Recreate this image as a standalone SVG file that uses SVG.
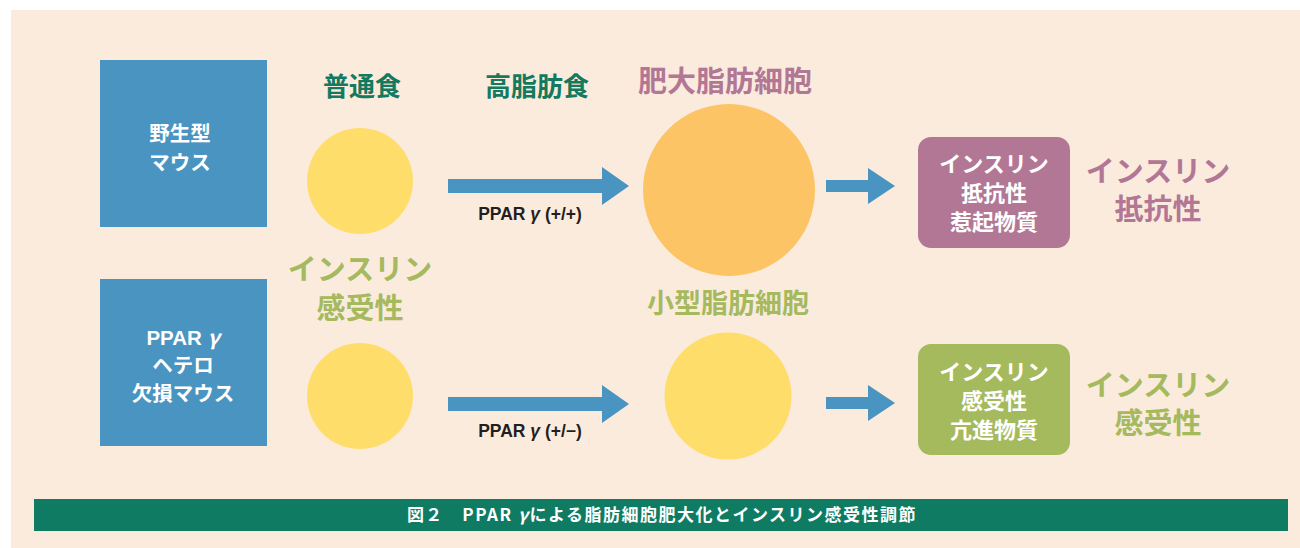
<svg xmlns="http://www.w3.org/2000/svg" width="1300" height="548" viewBox="0 0 1300 548">
<style>
text{font-family:"Noto Sans CJK JP","Noto Sans CJK SC",sans-serif;font-weight:bold;text-anchor:middle}
.w{fill:#ffffff}
.box{fill:#4a94c1}
.teal{fill:#137a5f;font-size:26px}
.pur{fill:#b27795}
.grn{fill:#a5b95d}
.lbl{fill:#231f20;font-size:17.5px;font-family:"Liberation Sans",Arial,sans-serif}
.arr{fill:#4a94c1}
</style>
<rect x="0" y="0" width="1300" height="548" fill="#ffffff"/>
<rect x="11" y="10" width="1289" height="538" fill="#fbebdd"/>

<g id="wild">
<rect class="box" x="100" y="60" width="167" height="167"/>
<text class="w" x="180" y="141" font-size="20.5">野生型</text>
<text class="w" x="180" y="170" font-size="20.5">マウス</text>
</g>
<g id="hetero">
<rect class="box" x="100" y="279" width="167" height="167"/>
<text class="w" x="183" y="345" font-size="20.5"><tspan font-family="Liberation Sans,Arial,sans-serif">PPAR </tspan><tspan font-style="italic">γ</tspan></text>
<text class="w" x="183" y="373" font-size="20.5">ヘテロ</text>
<text class="w" x="183" y="401" font-size="20.5">欠損マウス</text>
</g>

<g id="label-normal"><text class="teal" x="362" y="96">普通食</text></g>
<g id="label-hfd"><text class="teal" x="537" y="96">高脂肪食</text></g>
<g id="label-big"><text class="pur" x="725" y="92" font-size="29">肥大脂肪細胞</text></g>
<g id="label-small"><text class="grn" x="728" y="313" font-size="27">小型脂肪細胞</text></g>
<g id="label-sens-left">
<text class="grn" x="360" y="280" font-size="29">インスリン</text>
<text class="grn" x="360" y="319" font-size="29">感受性</text>
</g>

<g id="cell1"><circle cx="360" cy="181" r="53" fill="#fedd6b"/></g>
<g id="cell2"><circle cx="360" cy="396" r="53" fill="#fedd6b"/></g>
<g id="cell-big"><circle cx="729" cy="190" r="86" fill="#fdc466"/></g>
<g id="cell-small"><circle cx="728" cy="396" r="63.5" fill="#fedd6b"/></g>

<g id="connectors">
<polygon class="arr" points="448,179 602,179 602,167 629,186 602,205 602,193 448,193"/>
<polygon class="arr" points="448,397 602,397 602,385 629,404 602,423 602,411 448,411"/>
<polygon class="arr" points="826,180 868,180 868,168 895,186 868,204 868,192 826,192"/>
<polygon class="arr" points="826,397 868,397 868,385 895,403 868,421 868,409 826,409"/>
<text class="lbl" x="530" y="220">PPAR <tspan font-style="italic">γ</tspan> (+/+)</text>
<text class="lbl" x="530" y="437">PPAR <tspan font-style="italic">γ</tspan> (+/−)</text>
</g>

<g id="resist-box">
<rect class="pur" x="918" y="137" width="152" height="111" rx="13"/>
<text class="w" x="994" y="172" font-size="22">インスリン</text>
<text class="w" x="994" y="201" font-size="22">抵抗性</text>
<text class="w" x="994" y="230" font-size="22">惹起物質</text>
</g>
<g id="resist-label">
<text class="pur" x="1158" y="182" font-size="29">インスリン</text>
<text class="pur" x="1158" y="220" font-size="29">抵抗性</text>
</g>
<g id="sens-box">
<rect class="grn" x="918" y="344" width="152" height="111" rx="13"/>
<text class="w" x="994" y="380" font-size="22">インスリン</text>
<text class="w" x="994" y="409" font-size="22">感受性</text>
<text class="w" x="994" y="438" font-size="22">亢進物質</text>
</g>
<g id="sens-label">
<text class="grn" x="1158" y="396" font-size="29">インスリン</text>
<text class="grn" x="1158" y="434" font-size="29">感受性</text>
</g>

<g id="caption">
<rect x="34" y="499" width="1254" height="32" fill="#0e7b62"/>
<text class="w" x="662" y="521" font-size="17" letter-spacing="1.5">図２　PPAR <tspan font-style="italic">γ</tspan>による脂肪細胞肥大化とインスリン感受性調節</text>
</g>
</svg>
